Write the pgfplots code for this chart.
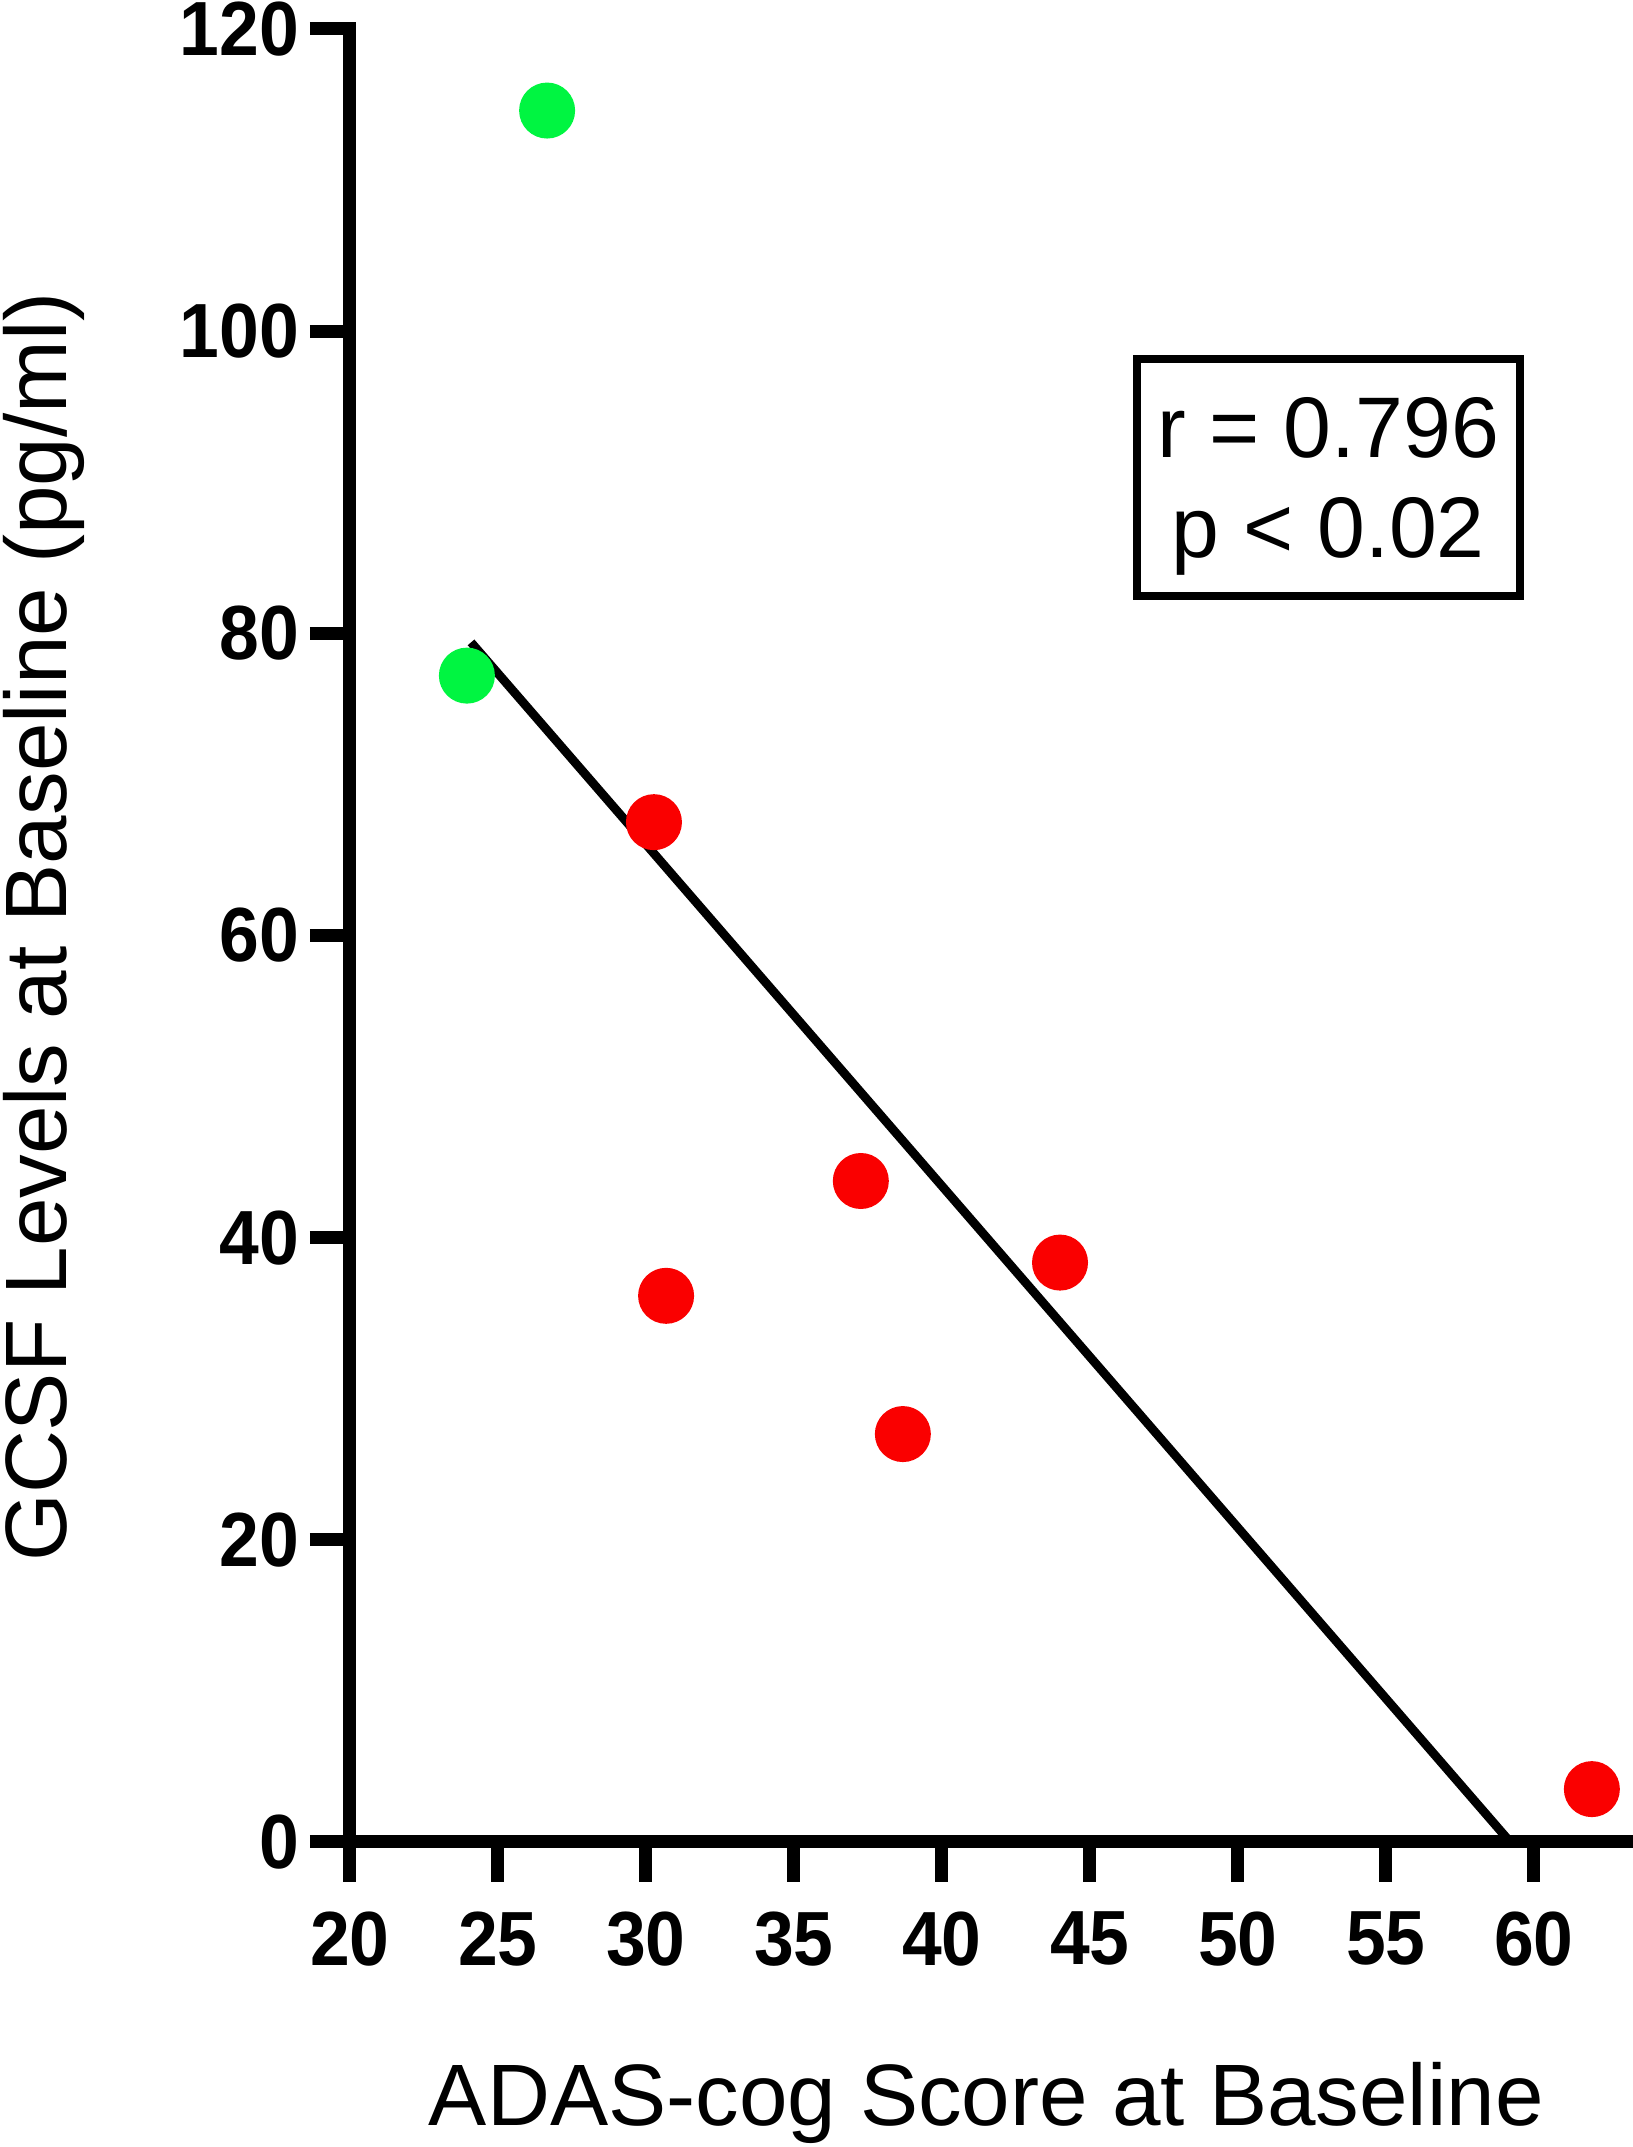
\documentclass[border=0pt]{standalone}
\usepackage{pgfplots}
\pgfplotsset{compat=1.18}
\usepackage{fontspec}
\setmainfont{Liberation Sans}
\newfontface\tickfont{Liberation Sans Bold}[FakeStretch=0.93]
\definecolor{ptgreen}{RGB}{0,245,65}
\definecolor{ptred}{RGB}{250,0,0}
\begin{document}
\begin{tikzpicture}
\path[use as bounding box] (-87.5pt,-76.25pt) rectangle (320.75pt,460.5pt);
\begin{axis}[
  scale only axis,
  width=320.75pt, height=453.25pt,
  xmin=20, xmax=63.35, ymin=0, ymax=120,
  axis x line=bottom, axis y line=left,
  axis line style={-, line width=3.25pt, line cap=rect},
  xtick={20,25,...,60}, ytick={0,20,...,120},
  tick align=outside, major tick length=10pt,
  tick style={line width=3.25pt, black},
  /pgf/number format/assume math mode=true,
  tick label style={font=\tickfont\fontsize{19.2}{19.2}\selectfont},
  xticklabel style={yshift=-4pt},
  yticklabel style={xshift=0.8pt},
  clip=false,
  xlabel={ADAS-cog Score at Baseline},
  ylabel={GCSF Levels at Baseline (pg/ml)},
  label style={font=\fontsize{21.8}{21.8}\selectfont},
  xlabel style={at={(axis description cs:0.496,-0.1561)}, anchor=base},
  ylabel style={at={(axis description cs:-0.2385,0.5047)}, anchor=center},
]
\addplot[black, line width=2.2pt, no marks] coordinates {(24.09,79.4) (59.2,0)};
\addplot[only marks, color=ptgreen, mark=*, mark size=6.8pt, mark options={draw=ptgreen, fill=ptgreen, line width=0.4pt}] coordinates {
  (26.66,114.6) (23.95,77.2)
};
\addplot[only marks, color=ptred, mark=*, mark size=6.8pt, mark options={draw=ptred, fill=ptred, line width=0.4pt}] coordinates {
  (30.27,67.5) (30.68,36.15) (37.26,43.75) (38.68,27.0) (43.99,38.35) (61.96,3.5)
};
\node[draw, line width=2pt, minimum width=95.75pt, minimum height=59.25pt, inner sep=0pt] at (axis cs:53.05,90.3) {};
\node[align=center, text depth=0pt, inner sep=0pt, font=\fontsize{21.5}{25}\selectfont] at (axis cs:53.05,90.3) {r = 0.796\\p {\char"3C} 0.02};
\end{axis}
\end{tikzpicture}
\end{document}
